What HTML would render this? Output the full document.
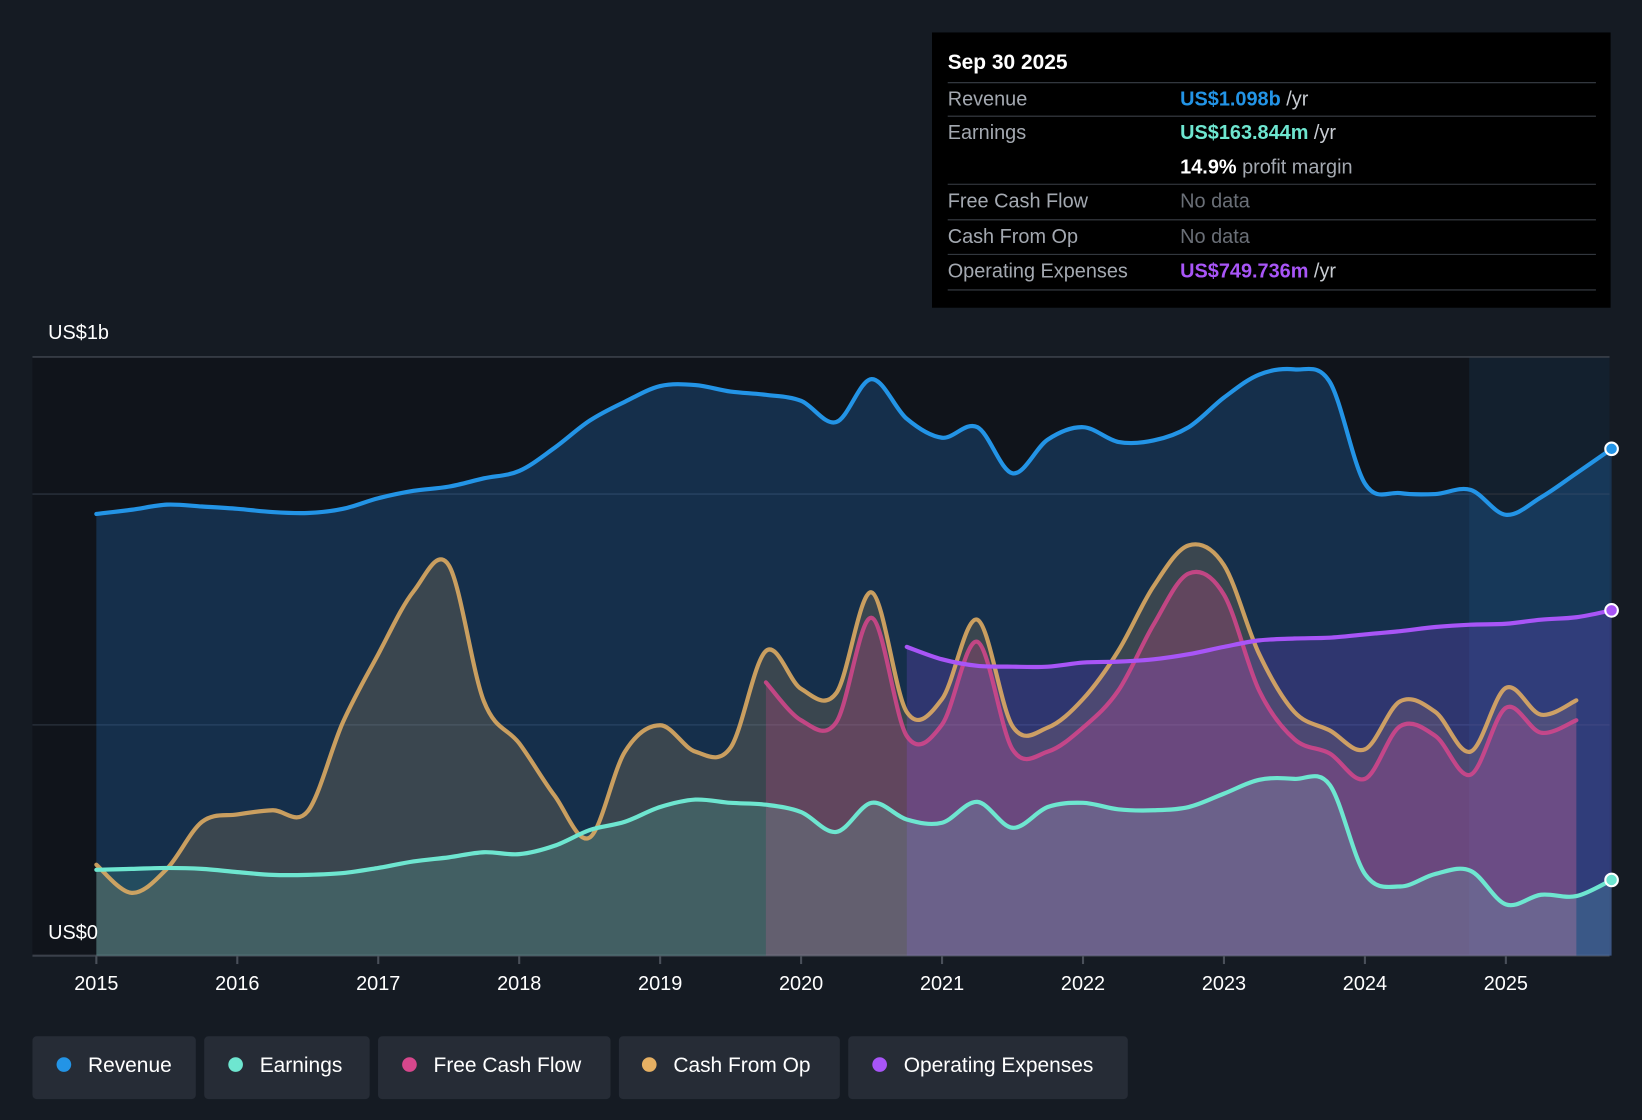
<!DOCTYPE html>
<html><head><meta charset="utf-8">
<style>
html,body{margin:0;padding:0;background:#151b23;}
svg{display:block;font-family:"Liberation Sans",sans-serif;}
</style></head>
<body>
<svg id="chart" width="1642" height="1120" viewBox="0 0 1568 1070" preserveAspectRatio="none" xmlns="http://www.w3.org/2000/svg">
<rect x="0" y="0" width="1568" height="1070" fill="#151b23"/>
<rect x="31" y="341" width="1372" height="572" fill="#10141b"/>
<rect x="1403" y="341" width="134" height="572" fill="#13202e"/>
<g id="grid"></g>
<g id="areas"></g>
<g id="lines"></g>
<g id="xaxis"></g>
<text x="46" y="324" fill="#fff" font-size="19">US$1b</text>
<text x="46" y="897" fill="#fff" font-size="19">US$0</text>

<g>
<rect x="890" y="31" width="648" height="263" fill="#000"/>
<text x="905" y="66" fill="#fff" font-size="20" font-weight="bold">Sep 30 2025</text>
<g stroke="#3a3f47" stroke-width="1">
<line x1="905" y1="79" x2="1524" y2="79"/><line x1="905" y1="111" x2="1524" y2="111"/>
<line x1="905" y1="176" x2="1524" y2="176"/><line x1="905" y1="210" x2="1524" y2="210"/>
<line x1="905" y1="243" x2="1524" y2="243"/><line x1="905" y1="277" x2="1524" y2="277"/></g>
<g font-size="19" fill="#a3a8b0">
<text x="905" y="101">Revenue</text><text x="905" y="133">Earnings</text>
<text x="905" y="198">Free Cash Flow</text><text x="905" y="232">Cash From Op</text>
<text x="905" y="265">Operating Expenses</text></g>
<g font-size="19">
<text x="1127" y="101"><tspan fill="#2394e6" font-weight="bold">US$1.098b</tspan><tspan fill="#c8ccd2"> /yr</tspan></text>
<text x="1127" y="133"><tspan fill="#6ee6d0" font-weight="bold">US$163.844m</tspan><tspan fill="#c8ccd2"> /yr</tspan></text>
<text x="1127" y="166"><tspan fill="#fff" font-weight="bold">14.9%</tspan><tspan fill="#a3a8b0"> profit margin</tspan></text>
<text x="1127" y="198" fill="#6a6f77">No data</text>
<text x="1127" y="232" fill="#6a6f77">No data</text>
<text x="1127" y="265"><tspan fill="#a855f7" font-weight="bold">US$749.736m</tspan><tspan fill="#c8ccd2"> /yr</tspan></text>
</g></g>

<g font-size="20" fill="#fff">
<g><rect x="31" y="990" width="156" height="60" rx="4" fill="#262c36"/><circle cx="61" cy="1017" r="7" fill="#2394e6"/><text x="84" y="1024" fill="#fff">Revenue</text></g>
<g><rect x="195" y="990" width="158" height="60" rx="4" fill="#262c36"/><circle cx="225" cy="1017" r="7" fill="#6ee6d0"/><text x="248" y="1024" fill="#fff">Earnings</text></g>
<g><rect x="361" y="990" width="222" height="60" rx="4" fill="#262c36"/><circle cx="391" cy="1017" r="7" fill="#d6478c"/><text x="414" y="1024" fill="#fff">Free Cash Flow</text></g>
<g><rect x="591" y="990" width="211" height="60" rx="4" fill="#262c36"/><circle cx="620" cy="1017" r="7" fill="#e6b063"/><text x="643" y="1024" fill="#fff">Cash From Op</text></g>
<g><rect x="810" y="990" width="267" height="60" rx="4" fill="#262c36"/><circle cx="840" cy="1017" r="7" fill="#a855f7"/><text x="863" y="1024" fill="#fff">Operating Expenses</text></g>
</g>
</svg>
<script>
const years = [2015,2016,2017,2018,2019,2020,2021,2022,2023,2024,2025];
const revenueStart = 2015;
const revenue = [957,966,977,973,968,961,959,968,991,1007,1016,1034,1050,1100,1159,1200,1234,1236,1222,1215,1202,1156,1249,1163,1122,1145,1045,1118,1145,1113,1116,1145,1209,1259,1270,1243,1023,1002,1000,1009,955,993,1045,1098];
const earningsStart = 2015;
const earnings = [186,188,190,188,181,175,175,179,190,204,213,224,220,238,272,290,322,338,331,327,311,268,331,295,288,333,277,322,331,317,315,322,351,381,383,370,177,150,177,184,111,132,129,164];
const cashOpStart = 2015;
const cashOp = [197,136,188,290,306,315,313,506,653,789,846,551,460,347,256,442,499,442,451,660,578,569,787,528,556,728,497,494,556,660,800,889,846,653,528,488,447,551,528,442,580,522,553];
const fcfStart = 2019.75;
const fcf = [592,510,506,732,476,501,680,447,442,494,574,717,828,782,574,469,438,383,497,476,392,537,483,510];
const opexStart = 2020.75;
const opex = [669,642,628,626,626,635,637,642,653,669,683,687,689,696,703,712,717,719,728,733,748];

const NS='http://www.w3.org/2000/svg';
const X0=92, PXY=134.6, Y0=913, PXM=0.441;
function xs(t){return X0+(t-2015)*PXY;}
function ys(v){return Y0-v*PXM;}
function pts(start,arr){return arr.map((v,i)=>[xs(start+i*0.25),ys(v)]);}
function smooth(p){
  let d='M'+p[0][0].toFixed(1)+','+p[0][1].toFixed(1);
  for(let i=0;i<p.length-1;i++){
    const p0=p[i-1]||p[i],p1=p[i],p2=p[i+1],p3=p[i+2]||p2;
    const c1=[p1[0]+(p2[0]-p0[0])/6,p1[1]+(p2[1]-p0[1])/6];
    const c2=[p2[0]-(p3[0]-p1[0])/6,p2[1]-(p3[1]-p1[1])/6];
    d+=' C'+c1[0].toFixed(1)+','+c1[1].toFixed(1)+' '+c2[0].toFixed(1)+','+c2[1].toFixed(1)+' '+p2[0].toFixed(1)+','+p2[1].toFixed(1);
  }
  return d;
}
function mk(tag,attrs,parent){const e=document.createElementNS(NS,tag);for(const k in attrs)e.setAttribute(k,attrs[k]);parent.appendChild(e);return e;}
const grid=document.getElementById('grid');
[0,500,1000].forEach(v=>{
  const l=mk('line',{x1:31,x2:1537,y1:ys(v),y2:ys(v),stroke:v===0?'#3a404a':'#262d38','stroke-width':v===0?2:1.5},grid);
  
  
});
const topLine=mk('line',{x1:31,x2:1537,y1:341,y2:341,stroke:'#3a404a','stroke-width':1.5},grid);


const xa=document.getElementById('xaxis');
years.forEach(y=>{
  mk('line',{x1:xs(y),x2:xs(y),y1:913,y2:921,stroke:'#4a505a','stroke-width':2},xa);
  const t=mk('text',{x:xs(y),y:946,fill:'#fff','font-size':19,'text-anchor':'middle'},xa);
  t.textContent=y;
  
  
});
const series=[
  {name:'revenue',start:revenueStart,data:revenue,color:'#2394e6',fill:'rgba(35,120,200,0.28)',dot:true},
  {name:'cash-from-op',start:cashOpStart,data:cashOp,color:'#e6b063',fill:'rgba(230,176,99,0.18)'},
  {name:'free-cash-flow',start:fcfStart,data:fcf,color:'#d6478c',fill:'rgba(214,71,140,0.25)'},
  {name:'operating-expenses',start:opexStart,data:opex,color:'#a855f7',fill:'rgba(140,80,240,0.22)',dot:true},
  {name:'earnings',start:earningsStart,data:earnings,color:'#6ee6d0',fill:'rgba(110,230,208,0.16)',dot:true},
];
const areas=document.getElementById('areas'),lines=document.getElementById('lines');
series.forEach(s=>{
  const p=pts(s.start,s.data);const d=smooth(p);
  const a=mk('path',{d:d+' L'+p[p.length-1][0]+','+Y0+' L'+p[0][0]+','+Y0+' Z',fill:s.fill},areas);
  
  
  const l=mk('path',{d:d,fill:'none',stroke:s.color,'stroke-width':4,'stroke-linecap':'round','stroke-opacity':s.dot?1:0.85},lines);
  
  
  if(s.dot){const q=p[p.length-1];
    const c=mk('circle',{cx:q[0],cy:q[1],r:6,fill:s.color,stroke:'#fff','stroke-width':2},lines);
    
    }
});
</script>
</body></html>
